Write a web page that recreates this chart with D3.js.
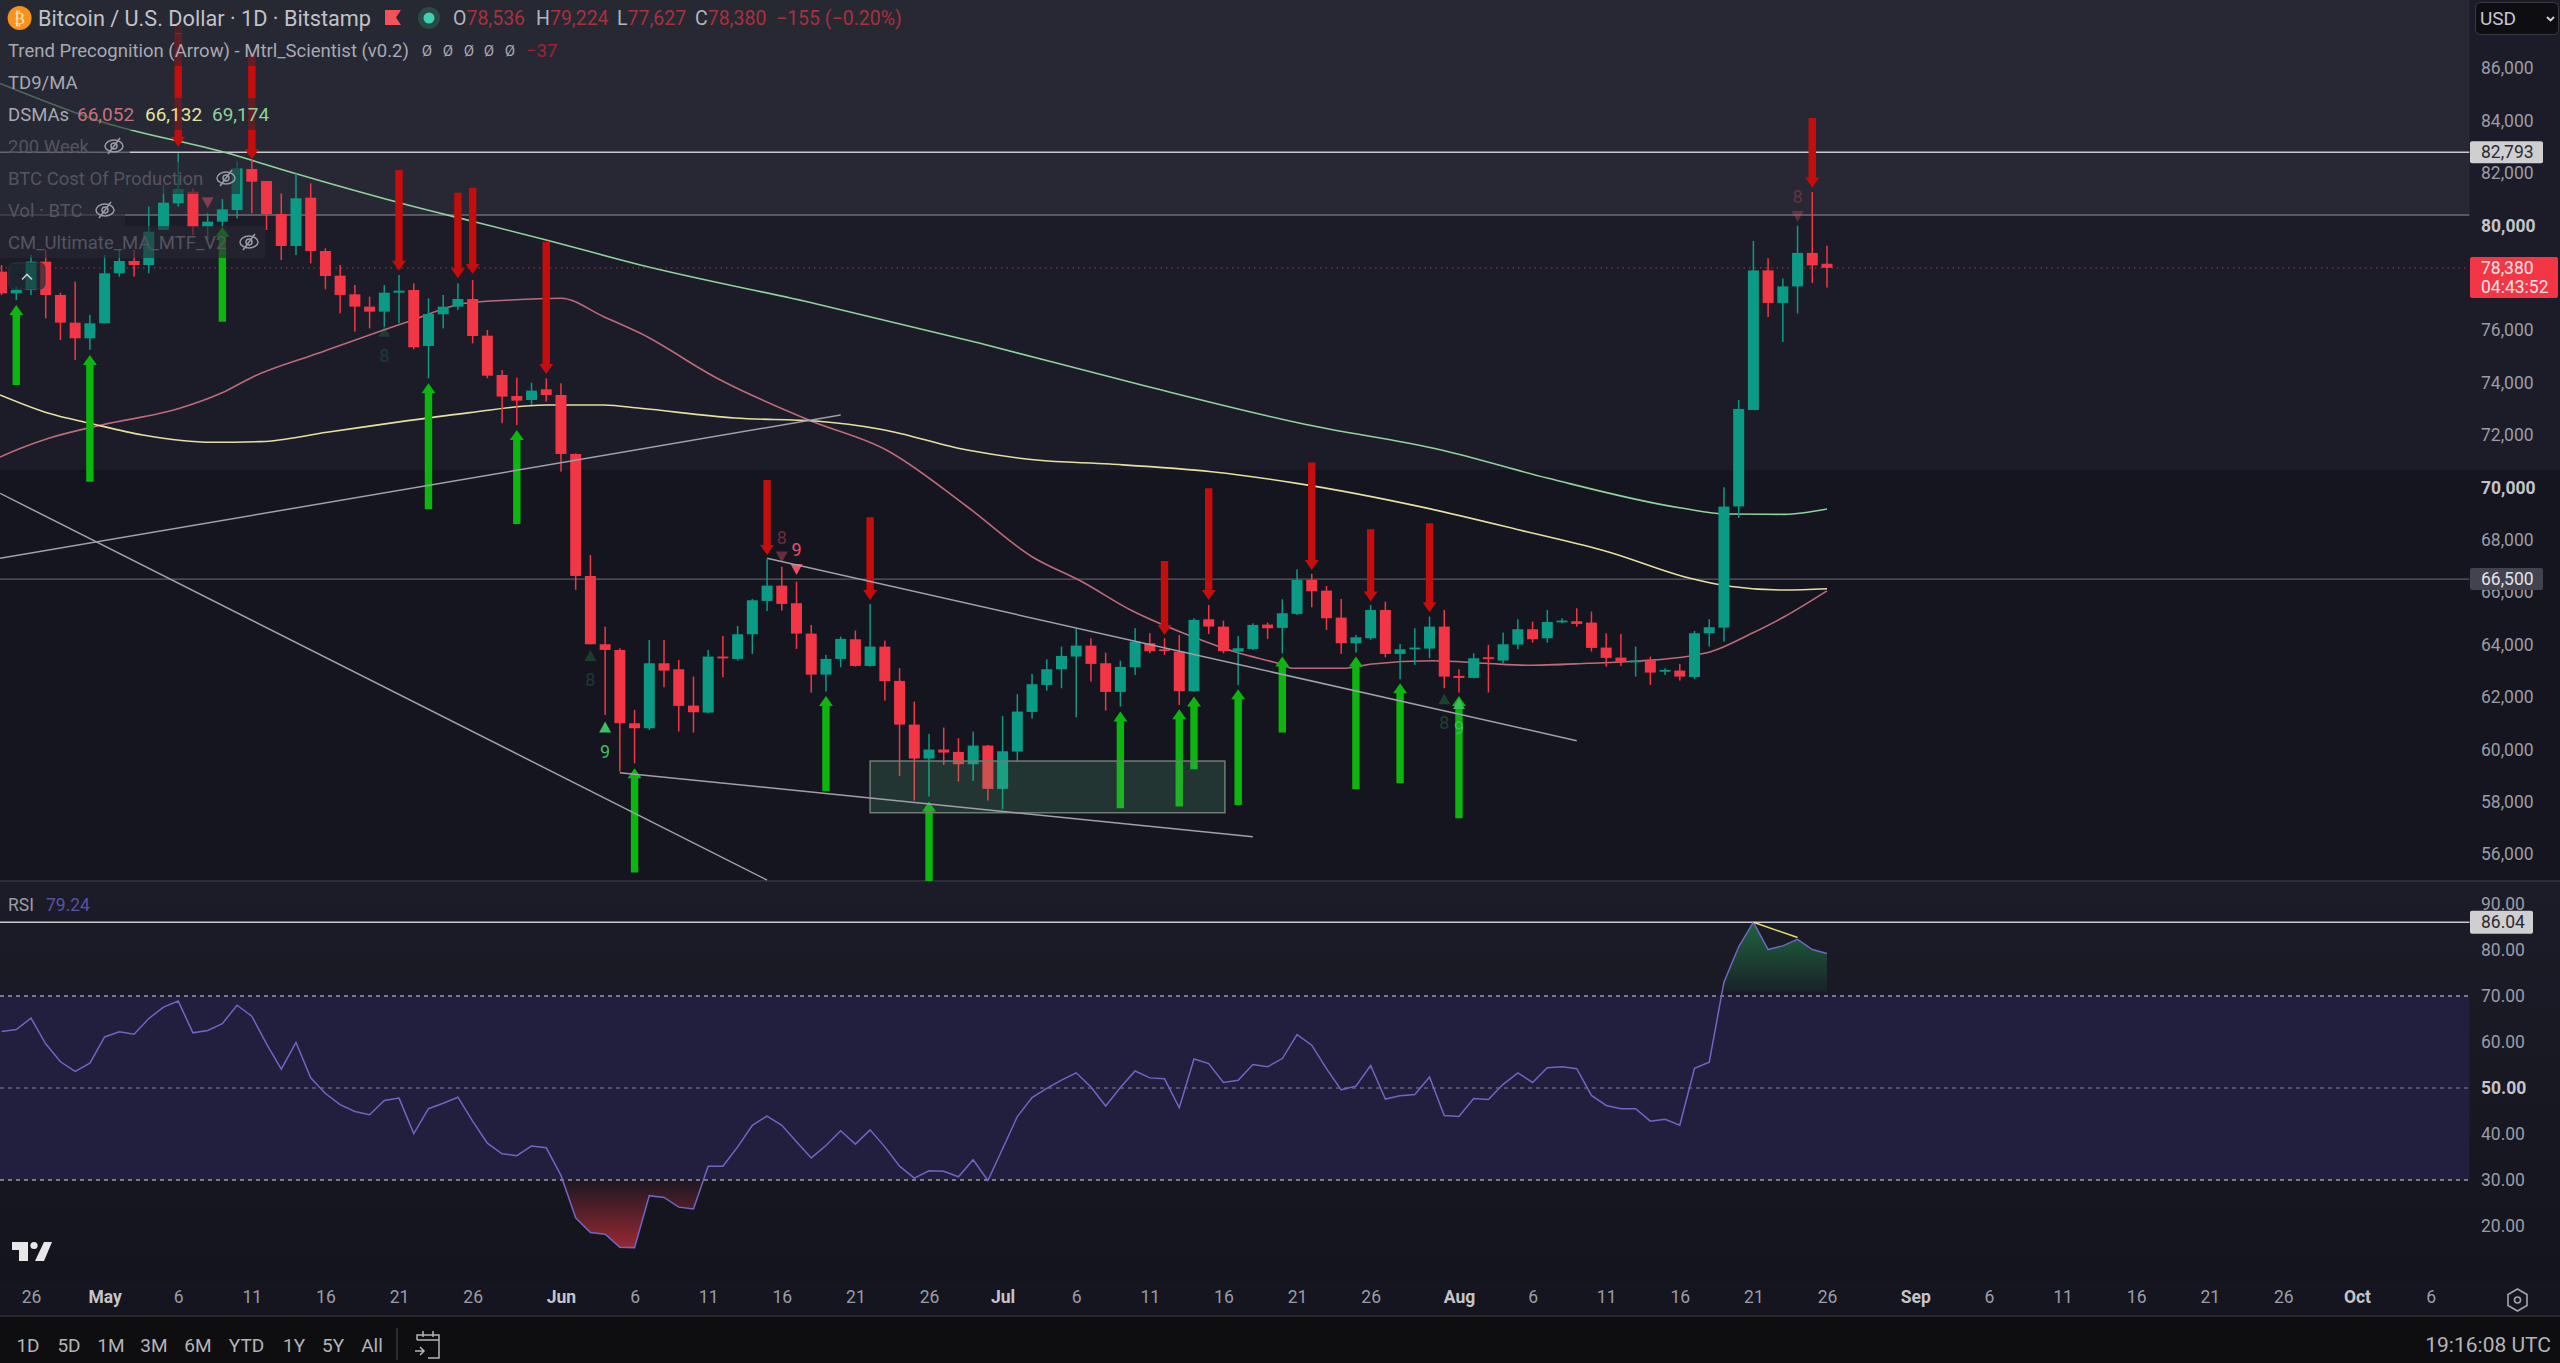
<!DOCTYPE html>
<html>
<head>
<meta charset="utf-8">
<script src="https://cdn.jsdelivr.net/npm/d3@7"></script>
<style>
  html, body { margin: 0; padding: 0; background: #14151f; overflow: hidden; }
  svg { display: block; font-family: Roboto, sans-serif; }
  .axis path, .axis line { display: none; }
</style>
</head>
<body>
<div id="chart"></div>
<script>
// daily candles, 24 Apr 2024 -> 26 Aug 2024
const firstDay = Date.UTC(2024, 3, 24);
const opens = [78234,77407,77535,78616,77344,76288,75690,76263,78171,78641,
  78489,79824,80842,81287,79952,80142,80587,82152,81694,80435,
  79214,81058,79023,78082,77369,76899,76708,77433,77535,75398,
  76606,76899,77191,75792,74291,73489,73337,73744,73527,71276,
  66620,64013,63797,60999,60808,63288,63059,61673,61406,63543,
  63454,64395,65667,66252,65578,64420,62856,63454,64204,63186,
  63924,62614,60948,59650,59994,59905,59434,60146,58493,59917,
  61431,62461,63059,63543,63962,63288,62194,63136,64051,63822,
  63733,62220,64967,64687,63733,63835,64764,64637,65171,66468,
  66061,65031,64051,64242,65323,63644,63861,63848,64687,62805,
  62728,63517,63390,64001,64586,64242,64891,64891,64840,63886,
  63505,63377,63390,62996,63008,62766,64433,64649,69274,72953,
  78282,77041,77671,78950,78536];
const highs = [78489,77662,78870,79061,77433,77853,76581,78870,79061,79061,
  80715,81541,82750,81414,80460,81007,82432,82495,81694,81223,
  81987,81605,79125,78489,77725,77280,77725,78107,77789,77217,
  77344,77789,77916,76008,74482,74189,73998,74164,73973,71301,
  67422,64687,63861,61507,64179,64179,63415,62779,63797,64331,
  64713,65743,67257,66977,66405,64751,63606,64306,64535,65552,
  64153,63097,61825,60592,60833,60426,60681,60172,61278,62105,
  62881,63441,63924,64624,64242,63695,63390,64624,64433,64242,
  64369,65005,65514,64916,64331,64815,64840,65731,66875,66697,
  66239,65743,64369,65514,65641,64026,64624,65069,65323,63059,
  63670,63988,64458,64967,64878,65323,65005,65387,65260,64433,
  64408,63924,63543,63097,63263,64522,64967,70004,73335,79404,
  78747,77969,79988,81274,79224];
const lows = [77344,77153,77344,76453,75627,74863,75245,76263,78043,78043,
  78171,79824,80715,79633,79443,79952,80269,80460,79824,78679,
  78870,78552,77560,76644,75945,76072,76135,76263,75270,74164,
  76072,76771,75499,74164,72447,72383,73146,73273,70602,66087,
  64013,61316,59155,59472,60744,62372,60681,60642,61380,62754,
  63390,63644,65285,65298,63835,62169,62207,63136,63161,63161,
  61864,58989,58048,58200,59409,58773,58798,58048,57717,59536,
  61177,62245,62334,61228,62589,61482,61635,62843,63670,63606,
  61698,62194,64408,63670,62461,63797,64217,63670,65133,65425,
  64560,63644,63695,64179,63517,62678,63225,63479,62334,62169,
  62716,62169,63288,63822,64077,64077,64815,64687,63733,63161,
  63186,62779,62461,62843,62627,62678,63924,64115,68835,72953,
  76503,75549,76633,77801,77627];
const closes = [77407,77535,78616,77344,76288,75690,76263,78171,78641,78489,
  79761,80867,81389,79952,80142,80613,82177,81669,80435,79214,
  81033,79023,78069,77344,76899,76708,77433,77509,75347,76619,
  76899,77191,75779,74265,73464,73311,73693,73527,71276,66620,
  64013,63797,60999,60808,63288,63008,61660,61418,63543,63517,
  64395,65692,66252,65552,64420,62856,63454,64217,63186,63924,
  62601,60948,59650,59994,59879,59434,60146,58493,59930,61444,
  62487,63059,63568,63962,63263,62194,63148,64115,63746,63797,
  62220,64942,64687,63746,63861,64751,64624,65196,66468,66036,
  65005,64051,64280,65323,63644,63822,63886,64687,62779,62728,
  63479,63479,64013,64586,64204,64865,64916,64789,63873,63492,
  63339,63390,62932,63034,62779,64433,64662,69267,72995,78282,
  77041,77671,78950,78473,78380];

const rsiValues = [62.3,62.7,65.2,59.6,55.7,53.6,55.4,61.1,62.2,61.7,
  65.1,67.6,68.9,62.0,62.5,64.0,68.0,65.6,59.6,54.1,
  59.9,52.2,48.8,46.4,44.9,44.2,47.3,47.8,40.1,45.5,
  46.7,48.0,42.8,38.0,35.7,35.3,37.4,37.0,31.0,21.8,
  18.6,18.2,15.4,15.3,26.6,26.2,24.1,23.7,33.0,33.0,
  37.2,41.9,43.9,41.9,38.3,34.8,37.5,40.7,37.8,40.9,
  37.2,33.0,30.4,32.0,31.9,30.7,34.4,29.9,36.8,43.8,
  47.9,49.9,51.7,53.3,50.2,46.1,50.1,53.7,52.2,52.0,
  45.7,56.3,55.3,51.2,51.7,55.1,54.6,56.4,61.6,59.3,
  54.2,49.6,50.4,54.9,47.6,48.3,48.6,52.4,44.0,43.8,
  47.7,47.5,50.8,53.3,51.2,54.4,54.6,54.2,48.4,46.2,
  45.5,45.5,42.8,43.2,41.9,54.3,55.6,73.0,80.7,86.04,
  80.1,80.9,82.3,80.1,79.24];

// moving averages as [day offset, price], read at the bends
const sma200 = [[-0.1,85421],[6.8,83958],[15.4,82750],[19.9,81987],[27.6,80778],[32.1,80142],[37,79443],[43.4,78489],
  [55.3,77011],[66.4,75511],[77.5,73896],[88.6,72400],[97.8,71427],[105,70358],[114.1,69212],[117.2,68984],[121.1,68972],[124,69174]];
const sma100 = [[-0.1,73528],[3.2,72828],[6,72447],[9.6,72001],[14.3,71722],[17.6,71747],[22.1,72103],[27.6,72549],[31.8,72854],[37,73146],
  [40.9,73146],[43.4,73019],[49.8,72648],[55.3,72534],[59.8,72213],[65.6,71427],[70.3,71045],[75.3,70891],[82.2,70596],[88,70155],
  [96.9,69200],[103.6,68307],[109.1,67545],[114.7,66529],[117.2,66236],[121.1,66083],[124,66132]];
const sma50 = [[-0.1,71160],[1.3,71492],[3.2,71874],[6.8,72383],[12.1,73019],[14.9,73591],[17.1,74227],[21.5,75118],[27.6,76326],[31.5,77026],
  [34.6,77153],[38,77217],[40.9,76517],[43.4,75881],[48.7,74138],[55,72534],[60.1,71427],[65.6,69262],[70,67354],[73.4,66399],[76.7,65319],
  [80.6,64365],[84.1,63666],[86.7,63286],[87.8,63095],[91.1,63095],[93.1,63258],[97.2,63386],[100.8,63286],[103.6,63210],[107.8,63286],
  [111.1,63374],[114.7,63565],[116.1,63729],[118.9,64431],[121.1,65065],[124,66052]];

// signal arrows: [day offset, tip price, tail price]
const greenArrows = [[1,76962,73909],[6,75054,70220],[15,79952,76326],[29,73973,69165],[35,72192,68605],[43,59281,55300],
  [56,62042,58404],[63,58010,54957],[76,61444,57755],[80,61533,57818],[81,62016,59243],[84,62296,57882],
  [87,63543,60642],[92,63543,58480],[95,62525,58709],[99,62042,57373]];
const redArrows = [[12,83004,87647],[17,82521,86502],[27,78272,82114],[31,77980,81249],[32,78145,81440],[37,74329,79379],
  [52,67422,70284],[59,65705,68860],[79,64369,67193],[82,65705,69966],[89,66850,70946],[93,65641,68402],[97,65234,68631],[123,81446,84103]];

// TD9 markers: [day offset, price, direction, label, opacity]
const tdMarks = [[41,60833,1,'9',1],[40,63568,1,'8',0.22],[26,75945,1,'8',0.18],[98,61914,1,'8',0.25],[99,61736,1,'9',0.9],
  [54,66888,-1,'9',1],[53,67359,-1,'8',0.4],[14,80880,-1,'',0.5],[122,80358,-1,'8',0.3]];

// drawn trend lines: [day, price, day, price]
const trendLines = [[-0.1,67293,57,72762],[-0.1,69774,52,55013],[42,59109,85,56666],[52,67293,107,60331]];
const levelLines = [[82793,'#c9c9cf',1.6],[80397,'#6b6b74',1.4],[66500,'#5d5d66',1.4]];

const priceTicks = [86000,84000,82000,80000,76000,74000,72000,70000,68000,66000,64000,62000,60000,58000,56000];
const rsiTicks = [90,80,70,60,50,40,30,20];
const timeTicks = ['2024-04-26','2024-05-01','2024-05-06','2024-05-11','2024-05-16','2024-05-21','2024-05-26','2024-06-01','2024-06-06','2024-06-11','2024-06-16','2024-06-21','2024-06-26',
  '2024-07-01','2024-07-06','2024-07-11','2024-07-16','2024-07-21','2024-07-26','2024-08-01','2024-08-06','2024-08-11','2024-08-16','2024-08-21','2024-08-26',
  '2024-09-01','2024-09-06','2024-09-11','2024-09-16','2024-09-21','2024-09-26','2024-10-01','2024-10-06'].map(d => new Date(d));
const rangeButtons = [['1D',28],['5D',69],['1M',111],['3M',154],['6M',198],['YTD',246.5],['1Y',294],['5Y',333],['All',372]];

const width = 2560, height = 1363, paneRight = 2469.5, mainBottom = 881, rsiBottom = 1283, toolbarTop = 1316;
const upColor = '#0b9b84', downColor = '#f23645';

const dayOf = i => new Date(firstDay + i * 864e5);
const x = d3.scaleUtc().domain([new Date('2024-04-26'), new Date('2024-08-26')]).range([31, 1827]);
const y = d3.scaleLinear().domain([86000, 56000]).range([68.2, 854.2]);
const yRsi = d3.scaleLinear().domain([90, 20]).range([904, 1226]);

const svg = d3.select('#chart').append('svg').attr('width', width).attr('height', height);
const defs = svg.append('defs');

defs.append('clipPath').attr('id', 'mainClip').append('rect')
  .attr('x', 0).attr('y', 0).attr('width', paneRight).attr('height', mainBottom);

// y1/y2 are in page pixels so the fade does not depend on the path's box
function addGradient(id, y1, y2, stops) {
  const g = defs.append('linearGradient').attr('id', id).attr('gradientUnits', 'userSpaceOnUse')
    .attr('x1', 0).attr('x2', 0).attr('y1', y1).attr('y2', y2);
  stops.forEach(s => g.append('stop').attr('offset', s[0]).attr('stop-color', s[1]).attr('stop-opacity', s[2]));
}
addGradient('rsiPaneBg', mainBottom, rsiBottom, [[0, '#1c1c28', 1], [1, '#14141d', 1]]);
addGradient('oversold', yRsi(30), yRsi(15), [[0, '#e0343f', 0.04], [1, '#e0343f', 0.65]]);
addGradient('overbought', yRsi(86), yRsi(71), [[0, '#1fa050', 0.55], [1, '#1fa050', 0.06]]);

// backgrounds
svg.append('rect').attr('width', width).attr('height', height).attr('fill', '#14151f');
svg.append('rect').attr('width', width).attr('height', y(70663)).attr('fill', '#1b1c28');
svg.append('rect').attr('width', paneRight).attr('height', y(80397)).attr('fill', '#272833');
svg.append('rect').attr('y', mainBottom).attr('width', width).attr('height', rsiBottom - mainBottom).attr('fill', 'url(#rsiPaneBg)');
svg.append('rect').attr('y', toolbarTop).attr('width', width).attr('height', height - toolbarTop).attr('fill', '#0e0e10');
svg.append('line').attr('x1', 0).attr('x2', width).attr('y1', mainBottom).attr('y2', mainBottom).attr('stroke', '#2c2d38').attr('stroke-width', 2);
svg.append('line').attr('x1', 0).attr('x2', width).attr('y1', toolbarTop).attr('y2', toolbarTop).attr('stroke', '#26262c').attr('stroke-width', 2);

const main = svg.append('g').attr('clip-path', 'url(#mainClip)');

// level lines
main.append('g').selectAll('line').data(levelLines).enter().append('line')
  .attr('x1', 0).attr('x2', paneRight)
  .attr('y1', d => y(d[0])).attr('y2', d => y(d[0]))
  .attr('stroke', d => d[1]).attr('stroke-width', d => d[2]);

// moving averages
const maLine = d3.line().x(d => x(dayOf(d[0]))).y(d => y(d[1])).curve(d3.curveMonotoneX);
[[sma50, '#bd6a7a'], [sma100, '#e6e0a0'], [sma200, '#8fd39a']].forEach(s => {
  main.append('path').attr('d', maLine(s[0])).attr('fill', 'none').attr('stroke', s[1]).attr('stroke-width', 1.6);
});

// last price dotted line
main.append('line').attr('x1', 0).attr('x2', paneRight).attr('y1', y(78380)).attr('y2', y(78380))
  .attr('stroke', '#f23645').attr('stroke-opacity', 0.6).attr('stroke-width', 1.4).attr('stroke-dasharray', '1.5 4');

// candles
const candles = opens.map((o, i) => ({ i, o, h: highs[i], l: lows[i], c: closes[i] }));
const candle = main.append('g').selectAll('g').data(candles).enter().append('g')
  .attr('fill', d => d.c >= d.o ? upColor : downColor);
candle.append('rect')
  .attr('x', d => x(dayOf(d.i)) - 0.75).attr('width', 1.5)
  .attr('y', d => y(d.h)).attr('height', d => y(d.l) - y(d.h));
candle.append('rect')
  .attr('x', d => x(dayOf(d.i)) - 5.5).attr('width', 11)
  .attr('y', d => y(Math.max(d.o, d.c)))
  .attr('height', d => Math.max(1.8, Math.abs(y(d.o) - y(d.c))));

// arrows: shaft plus head, dir = 1 points up
function arrowPath(d, dir) {
  const cx = x(dayOf(d[0])), tip = y(d[1]), tail = y(d[2]);
  return `M${cx},${tip}L${cx + 7},${tip + dir * 10}L${cx + 3.7},${tip + dir * 10}L${cx + 3.7},${tail}L${cx - 3.7},${tail}L${cx - 3.7},${tip + dir * 10}L${cx - 7},${tip + dir * 10}Z`;
}
main.append('g').selectAll('path').data(greenArrows).enter().append('path')
  .attr('d', d => arrowPath(d, 1)).attr('fill', '#0db50f');
main.append('g').selectAll('path').data(redArrows).enter().append('path')
  .attr('d', d => arrowPath(d, -1)).attr('fill', '#c40e0e');

// TD9 triangles and counts
const td = main.append('g').selectAll('g').data(tdMarks).enter().append('g')
  .attr('transform', d => `translate(${x(dayOf(d[0]))},${y(d[1])})`)
  .attr('fill', d => d[2] > 0 ? '#3fbf63' : '#e8506a')
  .attr('opacity', d => d[4]);
td.append('path').attr('d', d => d[2] > 0 ? 'M0,-6L6,5L-6,5Z' : 'M0,6L6,-5L-6,-5Z');
td.append('text').attr('text-anchor', 'middle')
  .attr('y', d => d[2] > 0 ? 30 : -13)
  .attr('font-size', 18)
  .text(d => d[3]);

// consolidation box
main.append('rect')
  .attr('x', x(dayOf(59))).attr('width', x(dayOf(83.1)) - x(dayOf(59)))
  .attr('y', y(59555)).attr('height', y(57583) - y(59555))
  .attr('fill', '#5aa878').attr('fill-opacity', 0.22)
  .attr('stroke', '#6d7f74').attr('stroke-width', 1.5);

// trend lines
main.append('g').selectAll('line').data(trendLines).enter().append('line')
  .attr('x1', d => x(dayOf(d[0]))).attr('y1', d => y(d[1]))
  .attr('x2', d => x(dayOf(d[2]))).attr('y2', d => y(d[3]))
  .attr('stroke', '#a0a0aa').attr('stroke-width', 1.5);

// RSI pane
svg.append('rect').attr('x', 0).attr('width', paneRight)
  .attr('y', yRsi(70)).attr('height', yRsi(30) - yRsi(70)).attr('fill', '#211e3e');

defs.append('clipPath').attr('id', 'below30').append('rect')
  .attr('x', 0).attr('width', paneRight).attr('y', yRsi(30)).attr('height', yRsi(15) - yRsi(30));
defs.append('clipPath').attr('id', 'above70').append('rect')
  .attr('x', 0).attr('width', paneRight).attr('y', yRsi(87)).attr('height', yRsi(71) - yRsi(87));

const rsiPoints = rsiValues.map((v, i) => ({ i, v }));
svg.append('path').datum(rsiPoints).attr('clip-path', 'url(#below30)')
  .attr('fill', 'url(#oversold)')
  .attr('d', d3.area().x(d => x(dayOf(d.i))).y0(yRsi(30)).y1(d => yRsi(d.v)));
svg.append('path').datum(rsiPoints).attr('clip-path', 'url(#above70)')
  .attr('fill', 'url(#overbought)')
  .attr('d', d3.area().x(d => x(dayOf(d.i))).y0(yRsi(71)).y1(d => yRsi(d.v)));

[[70, 0.75], [50, 0.4], [30, 0.75]].forEach(l => {
  svg.append('line').attr('x1', 0).attr('x2', paneRight).attr('y1', yRsi(l[0])).attr('y2', yRsi(l[0]))
    .attr('stroke', '#c4c4cc').attr('stroke-opacity', l[1]).attr('stroke-width', 1.4).attr('stroke-dasharray', '4 4');
});
svg.append('line').attr('x1', 0).attr('x2', paneRight).attr('y1', yRsi(86.04)).attr('y2', yRsi(86.04))
  .attr('stroke', '#c9c9cf').attr('stroke-width', 1.6);
svg.append('path').datum(rsiPoints)
  .attr('fill', 'none').attr('stroke', '#6f66c4').attr('stroke-width', 1.5)
  .attr('d', d3.line().x(d => x(dayOf(d.i))).y(d => yRsi(d.v)));
svg.append('line')
  .attr('x1', x(dayOf(119))).attr('y1', yRsi(86.04)).attr('x2', x(dayOf(122))).attr('y2', yRsi(82.7))
  .attr('stroke', '#e6dc6a').attr('stroke-width', 1.6);

// axes
const priceAxis = svg.append('g').attr('class', 'axis').attr('transform', `translate(2481,0)`)
  .call(d3.axisRight(y).tickValues(priceTicks).tickSize(0).tickPadding(0).tickFormat(d3.format(',')));
const rsiAxis = svg.append('g').attr('class', 'axis').attr('transform', `translate(2481,0)`)
  .call(d3.axisRight(yRsi).tickValues(rsiTicks).tickSize(0).tickPadding(0).tickFormat(d3.format('.2f')));
[priceAxis, rsiAxis].forEach(a => a.selectAll('text')
  .attr('font-family', 'Roboto, sans-serif').attr('font-size', 17.5)
  .attr('fill', '#9c9ca6'));
priceAxis.selectAll('text').filter(d => d === 80000 || d === 70000).attr('font-weight', 700).attr('fill', '#c4c4ca');
rsiAxis.selectAll('text').filter(d => d === 50).attr('font-weight', 700).attr('fill', '#c4c4ca');

const monthLabel = d3.utcFormat('%b');
const timeAxis = svg.append('g').attr('class', 'axis').attr('transform', 'translate(0,1291)')
  .call(d3.axisBottom(x).tickValues(timeTicks).tickSize(0).tickPadding(0)
    .tickFormat(d => d.getUTCDate() === 1 ? monthLabel(d) : String(d.getUTCDate())));
timeAxis.selectAll('text')
  .attr('font-family', 'Roboto, sans-serif').attr('font-size', 17.5)
  .attr('fill', d => d.getUTCDate() === 1 ? '#c4c4ca' : '#9c9ca6')
  .attr('font-weight', d => d.getUTCDate() === 1 ? 700 : 400);

// price badges
function badge(cy, h, w, fill, color, lines) {
  svg.append('rect').attr('x', 2470).attr('y', cy - h / 2).attr('width', w).attr('height', h)
    .attr('rx', 2).attr('fill', fill);
  lines.forEach((t, i) => {
    svg.append('text').attr('x', 2481).attr('y', cy + (i - (lines.length - 1) / 2) * 19 + 6)
      .attr('font-size', 17.5).attr('fill', color).text(t);
  });
}
badge(y(82793), 22, 73, '#cfcfd2', '#2a2a30', ['82,793']);
badge(y(66500), 22, 73, '#43434f', '#e2e2e6', ['66,500']);
badge(277.5, 41, 88, '#f23645', '#fbe3e5', ['78,380', '04:43:52']);
badge(yRsi(86.04), 23, 63, '#cfcfd2', '#2a2a30', ['86.04']);

// legend chips, drawn over the chart
const legendRows = [
  [50, 561, 'Trend Precognition (Arrow) - Mtrl_Scientist (v0.2)', '#a9a9b2'],
  [82, 80, 'TD9/MA', '#a9a9b2'],
  [114, 275, 'DSMAs', '#a9a9b2'],
  [146, 130, '200 Week', '#55555f'],
  [178, 240, 'BTC Cost Of Production', '#55555f'],
  [210, 125, 'Vol · BTC', '#55555f'],
  [242, 265, 'CM_Ultimate_MA_MTF_V2', '#55555f']
];
svg.append('rect').attr('width', 908).attr('height', 33).attr('fill', '#272833').attr('fill-opacity', 0.75);
legendRows.forEach(r => {
  svg.append('rect').attr('y', r[0] - 16).attr('width', r[1]).attr('height', 32)
    .attr('fill', '#272833').attr('fill-opacity', 0.62);
  svg.append('text').attr('x', 8).attr('y', r[0] + 6.5).attr('font-size', 18.5).attr('fill', r[3]).text(r[2]);
});

// eye-off icons
[[114, 146], [226, 178], [105, 210], [249, 242]].forEach(p => {
  const g = svg.append('g').attr('transform', `translate(${p[0]},${p[1]})`)
    .attr('fill', 'none').attr('stroke', '#9a9aa2').attr('stroke-width', 1.5);
  g.append('ellipse').attr('rx', 9).attr('ry', 6);
  g.append('circle').attr('r', 3);
  g.append('line').attr('x1', -6).attr('y1', 8).attr('x2', 6).attr('y2', -8);
});
const legendValues = [[427, 50, 'Ø'], [448, 50, 'Ø'], [469, 50, 'Ø'], [489, 50, 'Ø'], [510, 50, 'Ø']];
legendValues.forEach(v => {
  svg.append('text').attr('x', v[0]).attr('y', v[1] + 6).attr('text-anchor', 'middle')
    .attr('font-size', 15).attr('fill', '#a9a9b2').text(v[2]);
});
svg.append('text').attr('x', 526).attr('y', 56.5).attr('font-size', 18.5).attr('fill', '#a3222e').text('−37');
[[77, '66,052', '#c9707f'], [145, '66,132', '#e6e0a0'], [212, '69,174', '#8fd39a']].forEach(v => {
  svg.append('text').attr('x', v[0]).attr('y', 120.5).attr('font-size', 19).attr('fill', v[2]).text(v[1]);
});

// header
svg.append('circle').attr('cx', 19.6).attr('cy', 18).attr('r', 12).attr('fill', '#f7931a');
svg.append('text').attr('x', 19.6).attr('y', 24).attr('text-anchor', 'middle').attr('font-size', 16)
  .attr('font-family', 'DejaVu Sans').attr('fill', '#ffe2b8').text('₿');
svg.append('text').attr('x', 38).attr('y', 25.5).attr('font-size', 21.7).attr('fill', '#c2c2c8')
  .text('Bitcoin / U.S. Dollar · 1D · Bitstamp');
svg.append('path').attr('d', 'M385,10H401L396,17.5L401,25H385Z').attr('fill', '#f5515a');
svg.append('circle').attr('cx', 429).attr('cy', 18).attr('r', 11).attr('fill', '#2a4a46');
svg.append('circle').attr('cx', 429).attr('cy', 18).attr('r', 5.5).attr('fill', '#3fd0b0');
const ohlc = [[453, 'O', '78,536'], [536, 'H', '79,224'], [617, 'L', '77,627'], [695, 'C', '78,380']];
ohlc.forEach(o => {
  const t = svg.append('text').attr('x', o[0]).attr('y', 25).attr('font-size', 19.5);
  t.append('tspan').attr('fill', '#b4b4bc').text(o[1]);
  t.append('tspan').attr('fill', '#a9303f').text(o[2]);
});
svg.append('text').attr('x', 776).attr('y', 25).attr('font-size', 19.5).attr('fill', '#a9303f').text('−155 (−0.20%)');

// collapse button over the first candles
svg.append('rect').attr('x', 9).attr('y', 263).attr('width', 36).attr('height', 26).attr('rx', 5)
  .attr('fill', '#1d2a30').attr('fill-opacity', 0.65).attr('stroke', '#33343c');
svg.append('path').attr('d', 'M22,279.5L27,274.5L32,279.5').attr('fill', 'none').attr('stroke', '#c9c9cf').attr('stroke-width', 1.6);

svg.append('text').attr('x', 8).attr('y', 911).attr('font-size', 17.5).attr('fill', '#9c9ca6').text('RSI');
svg.append('text').attr('x', 46).attr('y', 911).attr('font-size', 17.5).attr('fill', '#5a52a8').text('79.24');

// USD selector
svg.append('rect').attr('x', 2475.5).attr('y', 2.5).attr('width', 83).attr('height', 32).attr('rx', 5)
  .attr('fill', '#0e0e12').attr('stroke', '#3a3a40');
svg.append('text').attr('x', 2480).attr('y', 25).attr('font-size', 19).attr('fill', '#c6c6cc').text('USD');
svg.append('path').attr('d', 'M2547,17L2550.5,20.5L2554,17').attr('fill', 'none').attr('stroke', '#d6d6da').attr('stroke-width', 1.8);

// TradingView mark
svg.append('path').attr('d', 'M12,1242H28V1261H19V1250H12Z').attr('fill', '#e8e8ea');
svg.append('circle').attr('cx', 34).attr('cy', 1245.5).attr('r', 3.6).attr('fill', '#e8e8ea');
svg.append('path').attr('d', 'M44,1242H52L44,1261H35Z').attr('fill', '#e8e8ea');

// settings hexagon
svg.append('path').attr('d', 'M2517.5,1289L2527,1294.5V1305.5L2517.5,1311L2508,1305.5V1294.5Z').attr('fill', 'none').attr('stroke', '#a4a4ac').attr('stroke-width', 1.6);
svg.append('circle').attr('cx', 2517.5).attr('cy', 1300).attr('r', 3).attr('fill', 'none').attr('stroke', '#a4a4ac').attr('stroke-width', 1.6);

// bottom toolbar
svg.append('g').selectAll('text').data(rangeButtons).enter().append('text')
  .attr('x', d => d[1]).attr('y', 1351.5).attr('text-anchor', 'middle')
  .attr('font-size', 19).attr('fill', '#b4b4ba').text(d => d[0]);
svg.append('line').attr('x1', 397).attr('x2', 397).attr('y1', 1328).attr('y2', 1360).attr('stroke', '#3a3a40').attr('stroke-width', 1.4);
svg.append('path').attr('d', 'M417,1340V1335H439V1358H428M417,1340H439M423,1331V1337M433,1331V1337M415,1351H424M420,1347L424,1351L420,1355')
  .attr('fill', 'none').attr('stroke', '#b4b4ba').attr('stroke-width', 1.5);
svg.append('text').attr('x', 2551).attr('y', 1352).attr('text-anchor', 'end')
  .attr('font-size', 21).attr('fill', '#b4b4ba').text('19:16:08 UTC');
</script>
</body>
</html>
